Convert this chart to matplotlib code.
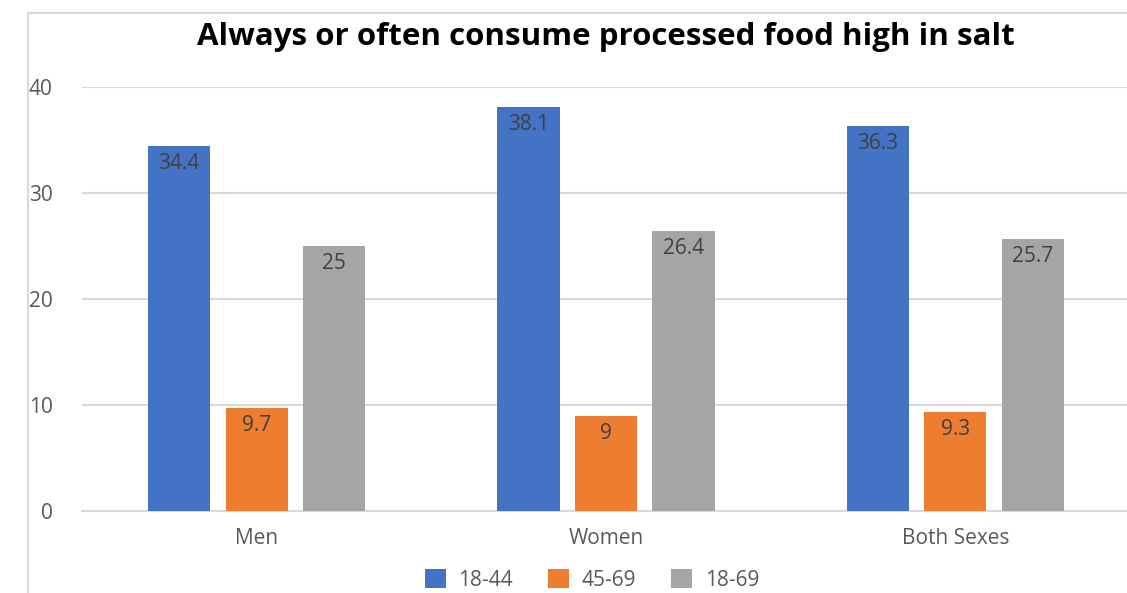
import matplotlib.pyplot as plt
import numpy as np

# Share reporting "always or often" eating processed food high in salt
groups = ["Men", "Women", "Both Sexes"]
age_bands = ["18-44", "45-69", "18-69"]
age_18_44 = [34.4, 38.1, 36.3]
age_45_69 = [9.7, 9.0, 9.3]
age_18_69 = [25.0, 26.4, 25.7]
y_ticks = [0, 10, 20, 30, 40]

colors = ["#4472C4", "#ED7D31", "#A5A5A5"]
grid_color = "#D9D9D9"
text_color = "#595959"

plt.rcParams["font.family"] = ["Open Sans", "DejaVu Sans"]

fig = plt.figure(figsize=(11.27, 5.93), dpi=100)
ax = fig.add_axes([82 / 1127, 82 / 593, 1048 / 1127, 424 / 593])

# outer chart frame (top and left edges only show)
fig.add_artist(plt.Line2D([28 / 1127, 28 / 1127], [0, 580 / 593], color=grid_color,
                          lw=1.5, transform=fig.transFigure))
fig.add_artist(plt.Line2D([28 / 1127, 1], [580 / 593, 580 / 593], color=grid_color,
                          lw=1.5, transform=fig.transFigure))

x = np.arange(len(groups))
width = 0.178
step = 0.222
series = [age_18_44, age_45_69, age_18_69]

for i, (vals, name, c) in enumerate(zip(series, age_bands, colors)):
    bars = ax.bar(x + (i - 1) * step, vals, width, color=c, label=name, zorder=3)
    for b, v in zip(bars, vals):
        ax.annotate(f"{v:g}", (b.get_x() + b.get_width() / 2, v),
                    xytext=(0, -5), textcoords="offset points",
                    ha="center", va="top", fontsize=15, color="#404040", zorder=4)

ax.set_xlim(-0.5, len(groups) - 0.5)
ax.set_ylim(0, 40)
ax.set_yticks(y_ticks)
ax.set_xticks(x)
ax.set_xticklabels(groups)
ax.yaxis.grid(True, color=grid_color, lw=1.5, zorder=0)
ax.set_axisbelow(True)
for side in ["top", "right", "left"]:
    ax.spines[side].set_visible(False)
ax.spines["bottom"].set_color(grid_color)
ax.spines["bottom"].set_linewidth(1.5)
ax.tick_params(axis="both", length=0, labelsize=15, colors=text_color)
ax.tick_params(axis="y", pad=21)
ax.tick_params(axis="x", pad=12)

fig.text(606 / 1127, 1 - 37 / 593, "Always or often consume processed food high in salt",
         ha="center", va="center", fontsize=22.5, fontweight="bold", color="black")

fig.legend(loc="center", bbox_to_anchor=(592 / 1127, 1 - 580 / 593), ncol=3,
           frameon=False, fontsize=15, labelcolor=text_color, handlelength=1.0,
           handleheight=1.0, columnspacing=1.7, handletextpad=0.6)

fig.savefig("out.png", dpi=100)
